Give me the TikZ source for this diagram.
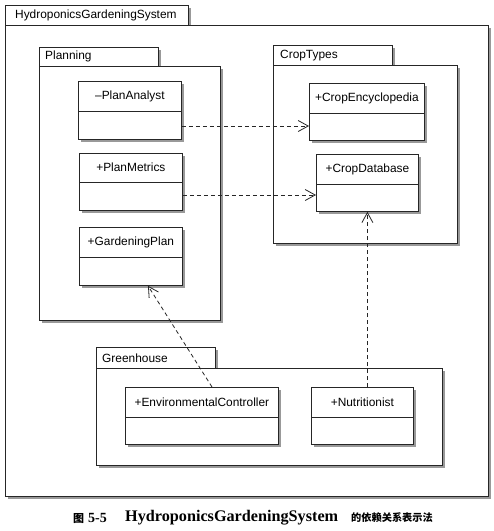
\documentclass[tikz,border=0pt]{standalone}
\usepackage{fontspec}
\setmainfont{Liberation Sans}
\newfontfamily\capserif{Liberation Serif}
\newfontfamily\cjk{Noto Sans CJK SC}
\usetikzlibrary{arrows.meta,calc,shadows}
\begin{document}
\begin{tikzpicture}[x=1pt,y=-1pt,
  shd/.style={drop shadow={shadow xshift=2.5pt, shadow yshift=-2.5pt, fill=black!40, opacity=1}},
  pkg/.style={draw=black!85, line width=0.8pt, fill=white, inner sep=0pt, anchor=north west, shd},
  cls/.style={draw=black!85, line width=0.8pt, fill=white, inner sep=0pt, anchor=north west, shd},
  lbl/.style={inner sep=0pt, font=\fontsize{11.9}{14}\selectfont},
  tablbl/.style={lbl, anchor=west},
  div/.style={draw=black!85, line width=0.8pt},
  dep/.style={draw=black!85, line width=0.8pt, dash pattern=on 4pt off 3pt,
    -{Straight Barb[length=10pt,width=11pt,line width=0.8pt]}},
  captxt/.style={inner sep=0pt, anchor=west}
]
\useasboundingbox (0,0) rectangle (494,531);
\fill[white] (0,0) rectangle (494,531);

% outer package
\node[pkg, minimum width=183pt, minimum height=20pt] (hgsT) at (5,5) {};
\node[pkg, minimum width=483pt, minimum height=471pt] (hgs) at (5,25) {};
\node[tablbl] (hgsL) at ($(hgsT.west)+(10,0)$) {HydroponicsGardeningSystem};

% Planning package
\node[pkg, minimum width=119pt, minimum height=19pt] (plT) at (39,47) {};
\node[pkg, minimum width=181pt, minimum height=254pt] (pl) at (39,66) {};
\node[tablbl] (plL) at ($(plT.west)+(6,0)$) {Planning};

% CropTypes package
\node[pkg, minimum width=119pt, minimum height=20pt] (ctT) at (273,45) {};
\node[pkg, minimum width=184pt, minimum height=178pt] (ct) at (273,65) {};
\node[tablbl] (ctL) at ($(ctT.west)+(7,0)$) {CropTypes};

% Greenhouse package
\node[pkg, minimum width=119pt, minimum height=21pt] (ghT) at (96,347) {};
\node[pkg, minimum width=346pt, minimum height=97pt] (gh) at (96,368) {};
\node[tablbl] (ghL) at ($(ghT.west)+(6,0)$) {Greenhouse};

% classes
\node[cls, minimum width=103pt, minimum height=58pt] (pa) at (78,81) {};
\node[lbl] (paL) at ($(pa.north)+(0,15)$) {–PlanAnalyst};
\draw[div] ($(pa.north west)+(0,30)$) -- ($(pa.north east)+(0,30)$);

\node[cls, minimum width=103pt, minimum height=57pt] (pm) at (79,153) {};
\node[lbl] (pmL) at ($(pm.north)+(0,14.5)$) {+PlanMetrics};
\draw[div] ($(pm.north west)+(0,29)$) -- ($(pm.north east)+(0,29)$);

\node[cls, minimum width=103pt, minimum height=58pt] (gp) at (79,227) {};
\node[lbl] (gpL) at ($(gp.north)+(0,15)$) {+GardeningPlan};
\draw[div] ($(gp.north west)+(0,30)$) -- ($(gp.north east)+(0,30)$);

\node[cls, minimum width=115pt, minimum height=57pt] (ce) at (309,83) {};
\node[lbl] (ceL) at ($(ce.north)+(0,15)$) {+CropEncyclopedia};
\draw[div] ($(ce.north west)+(0,30)$) -- ($(ce.north east)+(0,30)$);

\node[cls, minimum width=102pt, minimum height=57pt] (cd) at (316,154) {};
\node[lbl] (cdL) at ($(cd.north)+(0,15)$) {+CropDatabase};
\draw[div] ($(cd.north west)+(0,30)$) -- ($(cd.north east)+(0,30)$);

\node[cls, minimum width=153pt, minimum height=57pt] (ec) at (125,387) {};
\node[lbl] (ecL) at ($(ec.north)+(0,15)$) {+EnvironmentalController};
\draw[div] ($(ec.north west)+(0,30)$) -- ($(ec.north east)+(0,30)$);

\node[cls, minimum width=102pt, minimum height=57pt] (nu) at (311,387) {};
\node[lbl] (nuL) at ($(nu.north)+(0,15)$) {+Nutritionist};
\draw[div] ($(nu.north west)+(0,30)$) -- ($(nu.north east)+(0,30)$);

% dependencies
\draw[dep] (pa.east |- 0,126) -- (ce.west |- 0,126);
\draw[dep] (pm.east |- 0,195) -- (cd.west |- 0,195);
\draw[dep] ($(ec.north west)+(87,0)$) -- ($(gp.south west)+(69,0)$);
\draw[dep] (cd.south |- nu.north) -- (cd.south);

% caption
\node[captxt] (capA) at (73,518) {{\cjk\bfseries\fontsize{11}{13}\selectfont 图}\hspace{4pt}{\capserif\bfseries\fontsize{14}{16}\selectfont 5-5}};
\node[captxt] (capB) at (125,518) {\capserif\bfseries\fontsize{16.2}{18}\selectfont HydroponicsGardeningSystem};
\node[captxt] (capC) at (351,518) {\cjk\bfseries\fontsize{10.2}{12}\selectfont 的依赖关系表示法};
\end{tikzpicture}
\end{document}
